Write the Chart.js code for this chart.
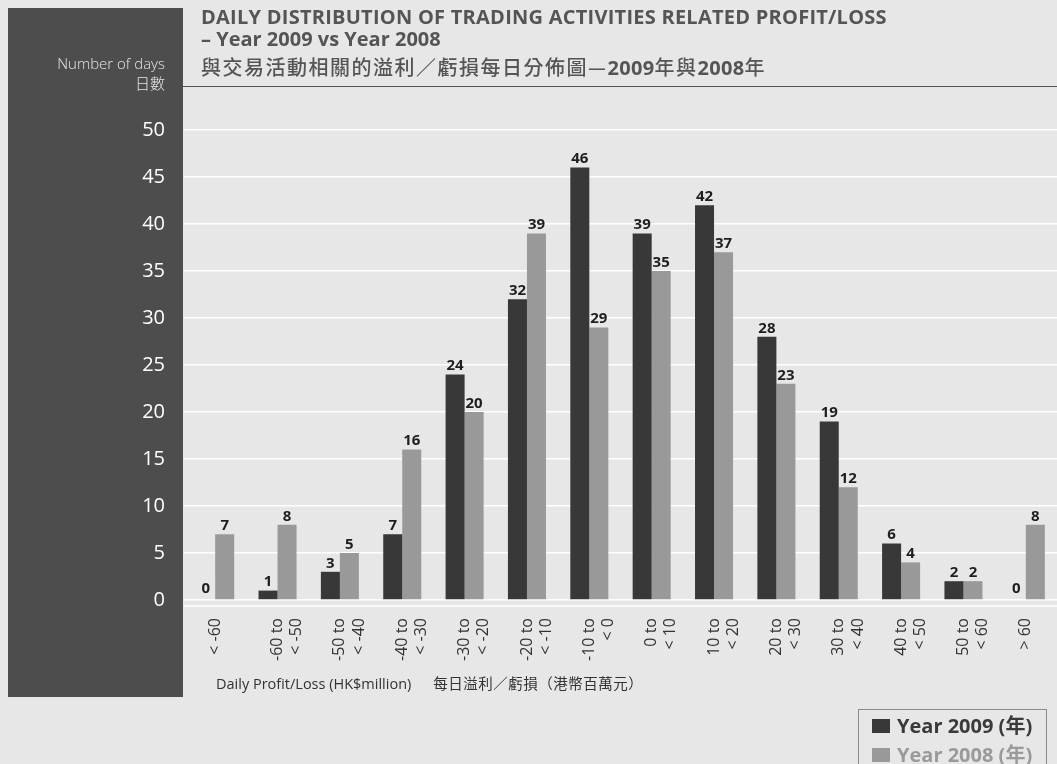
<!DOCTYPE html>
<html>
<head>
<meta charset="utf-8">
<script src="https://cdn.jsdelivr.net/npm/chart.js@4.4.1/dist/chart.umd.min.js"></script>
<style>
  html, body { margin:0; padding:0; background:#e7e7e7; width:1057px; height:764px; overflow:hidden; font-family:"Open Sans","Noto Sans CJK TC",sans-serif; }
  #wrap { position:relative; width:1057px; height:764px; }
  #panel { position:absolute; left:8px; top:8px; width:175px; height:689px; background:#4d4d4d; }
  canvas { position:absolute; left:0; top:0; }
  .t { position:absolute; white-space:nowrap; }
  .tl { left:201px; color:#555; font-weight:bold; font-size:20px; line-height:24px; }
  #t1 { letter-spacing:0.25px; }
  .zh { font-family:"Noto Sans CJK TC","Open Sans",sans-serif; }
  #t3 { font-weight:500; letter-spacing:1.5px; }
  #t3 b { font-family:"Open Sans",sans-serif; font-weight:bold; letter-spacing:0.3px; }
  #rule { position:absolute; left:183px; top:86px; width:874px; height:0; border-top:1.5px solid #555; }
  #ytitle { right:892px; top:53px; text-align:right; color:#e6e6e6; font-size:15px; font-weight:300; line-height:20px; }
  #ytitle .zh { font-weight:300; }
  #xtitle { left:216px; top:672px; color:#333; font-size:14.5px; }
  #xtitle .zh { margin-left:22px; letter-spacing:0.5px; }
  #legend { position:absolute; left:858px; top:709px; width:189px; height:70px; border:1.5px solid #8a8a8a; box-sizing:border-box; padding:1px 0 0 13px; }
  .li { font-weight:bold; font-size:20px; line-height:28px; white-space:nowrap; }
  .li span.sw { display:inline-block; width:18px; height:14px; margin-right:7px; vertical-align:0px; }
  .li .zh { font-weight:bold; }
</style>
</head>
<body>
<div id="wrap">
  <div id="panel"></div>
  <canvas id="c" width="1057" height="764"></canvas>
  <div id="t1" class="t tl" style="top:5px">DAILY DISTRIBUTION OF TRADING ACTIVITIES RELATED PROFIT/LOSS</div>
  <div id="t2" class="t tl" style="top:27px">– Year 2009 vs Year 2008</div>
  <div id="t3" class="t tl zh" style="top:55px">與交易活動相關的溢利／虧損每日分佈圖—<b>2009</b>年與<b>2008</b>年</div>
  <div id="rule"></div>
  <div id="ytitle" class="t">Number of days<br><span class="zh">日數</span></div>
  <div id="xtitle" class="t">Daily Profit/Loss (HK$million)<span class="zh">每日溢利／虧損（港幣百萬元）</span></div>
  <div id="legend">
    <div class="li" style="color:#3a3a3a"><span class="sw" style="background:#383838"></span>Year 2009 (<span class="zh">年</span>)</div>
    <div class="li" style="color:#9a9a9a"><span class="sw" style="background:#999999"></span>Year 2008 (<span class="zh">年</span>)</div>
  </div>
</div>
<script>
const categories = [
  ["< -60"], ["-60 to", "< -50"], ["-50 to", "< -40"], ["-40 to", "< -30"],
  ["-30 to", "< -20"], ["-20 to", "< -10"], ["-10 to", "< 0"], ["0 to", "< 10"],
  ["10 to", "< 20"], ["20 to", "< 30"], ["30 to", "< 40"], ["40 to", "< 50"],
  ["50 to", "< 60"], ["> 60"]
];
const year2009 = [0, 1, 3, 7, 24, 32, 46, 39, 42, 28, 19, 6, 2, 0];
const year2008 = [7, 8, 5, 16, 20, 39, 29, 35, 37, 23, 12, 4, 2, 8];
const yTicks = [0, 5, 10, 15, 20, 25, 30, 35, 40, 45, 50];

const valueLabels = {
  id: 'valueLabels',
  afterDatasetsDraw(chart) {
    const ctx = chart.ctx;
    ctx.save();
    ctx.font = 'bold 15px "Open Sans", sans-serif';
    ctx.fillStyle = '#1e1e1e';
    ctx.textAlign = 'center';
    ctx.textBaseline = 'bottom';
    chart.data.datasets.forEach((ds, i) => {
      const meta = chart.getDatasetMeta(i);
      meta.data.forEach((bar, j) => {
        const off = ds.data[j] === 0 ? 4 : 1;
        ctx.fillText(String(ds.data[j]), bar.x, bar.y - off);
      });
    });
    ctx.restore();
  }
};

const baseLine = {
  id: 'baseLine',
  beforeDatasetsDraw(chart) {
    const ctx = chart.ctx, a = chart.chartArea;
    ctx.save();
    ctx.strokeStyle = '#ffffff';
    ctx.lineWidth = 1.5;
    ctx.beginPath();
    ctx.moveTo(a.left, a.bottom + 6);
    ctx.lineTo(a.right, a.bottom + 6);
    ctx.stroke();
    ctx.restore();
  }
};

new Chart(document.getElementById('c'), {
  type: 'bar',
  data: {
    labels: categories,
    datasets: [
      { label: 'Year 2009 (年)', data: year2009, backgroundColor: '#383838' },
      { label: 'Year 2008 (年)', data: year2008, backgroundColor: '#999999' }
    ]
  },
  options: {
    responsive: false,
    animation: false,
    devicePixelRatio: 1,
    categoryPercentage: 0.61,
    barPercentage: 1.0,
    layout: { padding: { top: 130, right: 0, left: 0, bottom: 0 } },
    plugins: { legend: { display: false }, tooltip: { enabled: false } },
    scales: {
      x: {
        grid: { display: false },
        border: { display: false },
        ticks: {
          color: '#333',
          font: { size: 16, family: '"Open Sans", sans-serif' },
          maxRotation: 90, minRotation: 90,
          padding: 10,
          autoSkip: false
        },
        afterFit(s) { s.height = 164; }
      },
      y: {
        min: 0, max: 50,
        afterBuildTicks(s) { s.ticks = yTicks.map(v => ({ value: v })); },
        grid: { color: '#ffffff', lineWidth: 1.5, drawTicks: false },
        border: { display: false },
        ticks: {
          color: '#ffffff',
          font: { size: 20, family: '"Open Sans", sans-serif' },
          padding: 19
        },
        afterFit(s) { s.width = 184; }
      }
    }
  },
  plugins: [valueLabels, baseLine]
});
</script>
</body>
</html>
